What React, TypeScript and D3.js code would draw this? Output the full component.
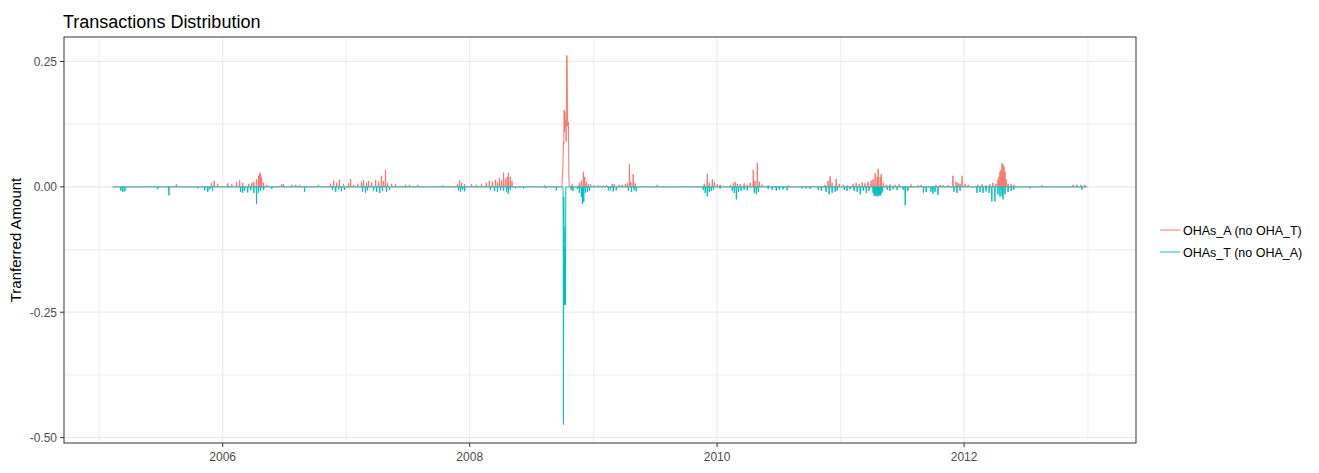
import React from "react";
import * as d3 from "d3";

// ---------- data ----------
const startDate = "2005-02-10";
const endDate = "2012-12-30";

const seriesNames = ["OHAs_A (no OHA_T)", "OHAs_T (no OHA_A)"];
const seriesColors = ["#F8766D", "#00BFC4"];

// Non-zero daily transferred amounts, OHAs_A (positive)
const ohaA: [string, number][] = [
  ["2005-08-17", 0.005], ["2005-11-29", 0.008], ["2005-12-07", 0.012], ["2005-12-17", 0.006],
  ["2006-01-16", 0.007], ["2006-01-28", 0.005], ["2006-02-11", 0.01], ["2006-02-20", 0.013],
  ["2006-03-01", 0.008], ["2006-03-19", 0.006], ["2006-03-28", 0.008], ["2006-04-03", 0.01],
  ["2006-04-11", 0.015], ["2006-04-17", 0.022], ["2006-04-20", 0.028], ["2006-04-23", 0.026],
  ["2006-04-26", 0.018], ["2006-05-02", 0.008], ["2006-05-11", 0.004], ["2006-06-24", 0.005],
  ["2006-06-29", 0.006], ["2006-07-24", 0.004], ["2006-08-05", 0.004], ["2006-08-16", 0.004],
  ["2006-10-11", 0.004], ["2006-11-16", 0.006], ["2006-11-25", 0.012], ["2006-12-04", 0.008],
  ["2006-12-12", 0.014], ["2006-12-24", 0.006],
  ["2007-01-08", 0.007], ["2007-01-14", 0.015], ["2007-01-23", 0.004], ["2007-02-04", 0.006],
  ["2007-02-15", 0.01], ["2007-02-21", 0.013], ["2007-03-02", 0.008], ["2007-03-08", 0.012],
  ["2007-03-17", 0.009], ["2007-03-29", 0.014], ["2007-04-07", 0.01], ["2007-04-15", 0.022],
  ["2007-04-21", 0.012], ["2007-04-27", 0.034], ["2007-05-03", 0.008], ["2007-05-15", 0.006],
  ["2007-05-27", 0.005], ["2007-06-25", 0.004], ["2007-07-07", 0.004], ["2007-07-31", 0.004],
  ["2007-10-13", 0.003], ["2007-11-26", 0.006], ["2007-12-02", 0.013], ["2007-12-08", 0.008],
  ["2007-12-17", 0.005],
  ["2008-01-06", 0.005], ["2008-01-21", 0.004], ["2008-02-05", 0.006], ["2008-02-19", 0.008],
  ["2008-02-28", 0.012], ["2008-03-08", 0.01], ["2008-03-17", 0.014], ["2008-03-23", 0.009],
  ["2008-03-29", 0.018], ["2008-04-04", 0.013], ["2008-04-10", 0.028], ["2008-04-16", 0.016],
  ["2008-04-21", 0.02], ["2008-04-24", 0.028], ["2008-04-30", 0.02], ["2008-05-05", 0.012],
  ["2008-08-09", 0.003],
  ["2008-09-30", 0.006], ["2008-10-01", 0.03], ["2008-10-02", 0.028], ["2008-10-03", 0.06],
  ["2008-10-04", 0.09], ["2008-10-05", 0.085], ["2008-10-06", 0.153], ["2008-10-07", 0.11],
  ["2008-10-08", 0.15], ["2008-10-09", 0.133], ["2008-10-10", 0.12], ["2008-10-11", 0.133],
  ["2008-10-12", 0.09], ["2008-10-13", 0.2], ["2008-10-14", 0.262], ["2008-10-15", 0.24],
  ["2008-10-16", 0.13], ["2008-10-17", 0.12], ["2008-10-18", 0.13], ["2008-10-19", 0.125],
  ["2008-10-20", 0.02],
  ["2008-10-30", 0.005], ["2008-11-20", 0.008], ["2008-11-26", 0.012], ["2008-12-02", 0.03],
  ["2008-12-06", 0.02], ["2008-12-11", 0.01], ["2008-12-17", 0.006], ["2008-12-23", 0.005],
  ["2009-01-03", 0.003], ["2009-01-15", 0.003], ["2009-01-30", 0.003], ["2009-02-08", 0.003],
  ["2009-02-25", 0.006], ["2009-03-03", 0.005], ["2009-03-18", 0.004], ["2009-03-27", 0.004],
  ["2009-04-05", 0.005], ["2009-04-11", 0.007], ["2009-04-17", 0.045], ["2009-04-21", 0.01],
  ["2009-04-28", 0.025], ["2009-05-04", 0.007], ["2009-07-08", 0.004],
  ["2009-11-24", 0.006], ["2009-12-03", 0.026], ["2009-12-09", 0.008], ["2009-12-18", 0.015],
  ["2009-12-24", 0.01],
  ["2010-01-02", 0.005], ["2010-01-10", 0.004], ["2010-02-09", 0.004], ["2010-02-18", 0.008],
  ["2010-02-24", 0.01], ["2010-03-02", 0.006], ["2010-03-10", 0.005], ["2010-03-22", 0.007],
  ["2010-03-31", 0.004], ["2010-04-09", 0.008], ["2010-04-18", 0.034], ["2010-04-23", 0.012],
  ["2010-04-30", 0.048], ["2010-05-06", 0.01], ["2010-05-14", 0.004], ["2010-06-01", 0.003],
  ["2010-07-30", 0.003], ["2010-11-16", 0.004], ["2010-11-25", 0.012], ["2010-12-01", 0.021],
  ["2010-12-07", 0.008], ["2010-12-19", 0.016], ["2010-12-28", 0.006],
  ["2011-01-09", 0.004], ["2011-01-20", 0.003], ["2011-02-07", 0.006], ["2011-02-16", 0.008],
  ["2011-02-25", 0.006], ["2011-03-06", 0.009], ["2011-03-14", 0.007], ["2011-03-23", 0.01],
  ["2011-04-01", 0.012], ["2011-04-07", 0.015], ["2011-04-13", 0.027], ["2011-04-19", 0.02],
  ["2011-04-22", 0.036], ["2011-04-28", 0.02], ["2011-05-01", 0.025], ["2011-05-07", 0.008],
  ["2011-05-16", 0.004], ["2011-05-27", 0.005], ["2011-06-11", 0.004], ["2011-06-23", 0.005],
  ["2011-07-28", 0.005], ["2011-08-18", 0.003], ["2011-08-27", 0.004], ["2011-10-10", 0.004],
  ["2011-10-22", 0.004], ["2011-10-31", 0.003], ["2011-11-15", 0.003], ["2011-11-29", 0.022],
  ["2011-12-08", 0.01], ["2011-12-14", 0.008], ["2011-12-20", 0.006], ["2011-12-26", 0.022],
  ["2012-01-04", 0.006], ["2012-01-13", 0.004], ["2012-02-11", 0.004], ["2012-02-23", 0.005],
  ["2012-03-06", 0.003], ["2012-03-17", 0.005], ["2012-03-26", 0.008], ["2012-04-04", 0.006],
  ["2012-04-10", 0.014], ["2012-04-13", 0.02], ["2012-04-16", 0.03], ["2012-04-19", 0.033],
  ["2012-04-22", 0.047], ["2012-04-25", 0.044], ["2012-04-28", 0.04], ["2012-05-01", 0.03],
  ["2012-05-04", 0.015], ["2012-05-10", 0.006], ["2012-05-19", 0.005], ["2012-05-27", 0.004],
  ["2012-08-18", 0.003], ["2012-11-18", 0.004], ["2012-11-29", 0.004], ["2012-12-11", 0.004],
  ["2012-12-23", 0.004],
];

// Non-zero daily transferred amounts, OHAs_T (negative)
const ohaT: [string, number][] = [
  ["2005-03-06", -0.008], ["2005-03-12", -0.01], ["2005-03-18", -0.009], ["2005-06-23", -0.005],
  ["2005-07-26", -0.017], ["2005-10-19", -0.003], ["2005-11-09", -0.007], ["2005-11-18", -0.01],
  ["2005-11-24", -0.005], ["2005-12-02", -0.008],
  ["2006-02-23", -0.01], ["2006-03-01", -0.012], ["2006-03-07", -0.008], ["2006-03-16", -0.011],
  ["2006-03-25", -0.007], ["2006-04-03", -0.012], ["2006-04-11", -0.034], ["2006-04-17", -0.012],
  ["2006-04-23", -0.008], ["2006-05-02", -0.006], ["2006-05-26", -0.004], ["2006-08-31", -0.01],
  ["2006-11-22", -0.006], ["2006-12-01", -0.01], ["2006-12-10", -0.005], ["2006-12-18", -0.009],
  ["2006-12-27", -0.006],
  ["2007-02-18", -0.01], ["2007-02-27", -0.012], ["2007-03-05", -0.007], ["2007-03-23", -0.008],
  ["2007-04-01", -0.01], ["2007-04-10", -0.012], ["2007-04-18", -0.008], ["2007-04-30", -0.01],
  ["2007-05-09", -0.006], ["2007-11-29", -0.008], ["2007-12-05", -0.01], ["2007-12-11", -0.006],
  ["2007-12-17", -0.009],
  ["2008-03-02", -0.006], ["2008-03-14", -0.008], ["2008-03-23", -0.01], ["2008-04-01", -0.007],
  ["2008-04-10", -0.008], ["2008-04-19", -0.01], ["2008-04-24", -0.014], ["2008-04-30", -0.006],
  ["2008-05-15", -0.003], ["2008-06-08", -0.003], ["2008-08-12", -0.003], ["2008-09-13", -0.007],
  ["2008-10-03", -0.01], ["2008-10-04", -0.474], ["2008-10-05", -0.02], ["2008-10-06", -0.235],
  ["2008-10-07", -0.12], ["2008-10-08", -0.235], ["2008-10-09", -0.08], ["2008-10-10", -0.235],
  ["2008-10-27", -0.006], ["2008-11-01", -0.008], ["2008-11-14", -0.004], ["2008-11-20", -0.012],
  ["2008-11-26", -0.02], ["2008-11-29", -0.034], ["2008-12-03", -0.03], ["2008-12-08", -0.012],
  ["2008-12-14", -0.01], ["2008-12-20", -0.008],
  ["2009-02-14", -0.008], ["2009-02-20", -0.006], ["2009-02-28", -0.009], ["2009-03-09", -0.007],
  ["2009-04-14", -0.008], ["2009-04-23", -0.01], ["2009-05-01", -0.007], ["2009-05-07", -0.009],
  ["2009-11-21", -0.006], ["2009-11-27", -0.012], ["2009-12-03", -0.019], ["2009-12-09", -0.01],
  ["2009-12-15", -0.008], ["2009-12-21", -0.006],
  ["2010-01-10", -0.004], ["2010-02-15", -0.008], ["2010-02-21", -0.012], ["2010-02-27", -0.025],
  ["2010-03-05", -0.01], ["2010-03-13", -0.008], ["2010-03-22", -0.006], ["2010-03-31", -0.007],
  ["2010-04-21", -0.012], ["2010-04-27", -0.015], ["2010-05-03", -0.01], ["2010-06-01", -0.004],
  ["2010-06-13", -0.006], ["2010-06-25", -0.008], ["2010-07-04", -0.006], ["2010-07-15", -0.005],
  ["2010-07-27", -0.007], ["2010-09-09", -0.003], ["2010-09-21", -0.003], ["2010-10-03", -0.004],
  ["2010-10-27", -0.006], ["2010-11-05", -0.008], ["2010-11-19", -0.01], ["2010-11-28", -0.015],
  ["2010-12-07", -0.012], ["2010-12-16", -0.01], ["2010-12-22", -0.008],
  ["2011-01-12", -0.006], ["2011-01-20", -0.008], ["2011-01-29", -0.005], ["2011-02-10", -0.008],
  ["2011-02-19", -0.01], ["2011-02-28", -0.015], ["2011-03-09", -0.008], ["2011-03-18", -0.012],
  ["2011-03-26", -0.008], ["2011-04-07", -0.012], ["2011-04-10", -0.018], ["2011-04-13", -0.015],
  ["2011-04-16", -0.019], ["2011-04-19", -0.017], ["2011-04-22", -0.019], ["2011-04-25", -0.016],
  ["2011-04-28", -0.018], ["2011-05-01", -0.014], ["2011-05-04", -0.01], ["2011-05-19", -0.006],
  ["2011-05-27", -0.008], ["2011-06-05", -0.005], ["2011-06-17", -0.006], ["2011-07-05", -0.006],
  ["2011-07-11", -0.037], ["2011-07-19", -0.008], ["2011-09-03", -0.012], ["2011-09-11", -0.01],
  ["2011-09-25", -0.01], ["2011-10-01", -0.014], ["2011-10-07", -0.01], ["2011-10-16", -0.016],
  ["2011-12-02", -0.01], ["2011-12-11", -0.012], ["2011-12-20", -0.008],
  ["2012-02-08", -0.012], ["2012-02-17", -0.01], ["2012-02-26", -0.012], ["2012-03-06", -0.009],
  ["2012-03-15", -0.012], ["2012-03-23", -0.029], ["2012-04-01", -0.029], ["2012-04-10", -0.015],
  ["2012-04-16", -0.02], ["2012-04-22", -0.018], ["2012-04-25", -0.025], ["2012-05-01", -0.015],
  ["2012-05-10", -0.01], ["2012-05-19", -0.008], ["2012-05-27", -0.006], ["2012-07-14", -0.003],
  ["2012-12-14", -0.006],
];

const xMajorYears = ["2006", "2008", "2010", "2012"];
const xMinorYears = ["2005", "2007", "2009", "2011", "2013"];
const yMajorTicks = [0.25, 0, -0.25, -0.5];
const yMajorLabels = ["0.25", "0.00", "-0.25", "-0.50"];
const yMinorTicks = [0.125, -0.125, -0.375];

// ---------- layout ----------
const W = 1319;
const H = 473;
const panel = { left: 64, right: 1136, top: 37, bottom: 443 };
const FONT = "'Liberation Sans', Arial, Helvetica, sans-serif";

const parse = d3.utcParse("%Y-%m-%d");
const fmt = d3.utcFormat("%Y-%m-%d");

function buildSeries(spikes: [string, number][]) {
  const m = new Map(spikes);
  const s = parse(startDate) as Date;
  const e = parse(endDate) as Date;
  return d3.utcDay.range(s, d3.utcDay.offset(e, 1)).map((d) => ({
    date: d,
    value: m.get(fmt(d)) ?? 0,
  }));
}

export default function App() {
  const seriesA = buildSeries(ohaA);
  const seriesT = buildSeries(ohaT);
  const all = [...seriesA, ...seriesT];

  const [dMin, dMax] = d3.extent(all, (d) => +d.date) as [number, number];
  const dPad = (dMax - dMin) * 0.05;
  const x = d3
    .scaleUtc()
    .domain([new Date(dMin - dPad), new Date(dMax + dPad)])
    .range([panel.left, panel.right]);

  const [vMin, vMax] = d3.extent(all, (d) => d.value) as [number, number];
  const vPad = (vMax - vMin) * 0.05;
  const y = d3
    .scaleLinear()
    .domain([vMin - vPad, vMax + vPad])
    .range([panel.bottom, panel.top]);

  const line = d3
    .line<{ date: Date; value: number }>()
    .x((d) => x(d.date))
    .y((d) => y(d.value));

  const yr = (s: string) => parse(s + "-01-01") as Date;

  const grid = "#EBEBEB";
  const minorGrid = "#F0F0F0";
  const textCol = "#4D4D4D";
  const axisCol = "#333333";

  return (
    <svg
      width={W}
      height={H}
      style={{ position: "absolute", left: 0, top: 0, background: "#fff" }}
      fontFamily={FONT}
    >
      <rect x={0} y={0} width={W} height={H} fill="#fff" />
      {/* minor grid */}
      {yMinorTicks.map((t) => (
        <line key={"ym" + t} x1={panel.left} x2={panel.right} y1={y(t)} y2={y(t)} stroke={minorGrid} strokeWidth={1.2} />
      ))}
      {xMinorYears.map((t) => (
        <line key={"xm" + t} x1={x(yr(t))} x2={x(yr(t))} y1={panel.top} y2={panel.bottom} stroke={minorGrid} strokeWidth={1.2} />
      ))}
      {/* major grid */}
      {yMajorTicks.map((t) => (
        <line key={"yM" + t} x1={panel.left} x2={panel.right} y1={y(t)} y2={y(t)} stroke={grid} strokeWidth={1.2} />
      ))}
      {xMajorYears.map((t) => (
        <line key={"xM" + t} x1={x(yr(t))} x2={x(yr(t))} y1={panel.top} y2={panel.bottom} stroke={grid} strokeWidth={1.2} />
      ))}

      {/* data */}
      <path d={line(seriesA) || ""} fill="none" stroke={seriesColors[0]} strokeWidth={1} />
      <path d={line(seriesT) || ""} fill="none" stroke={seriesColors[1]} strokeWidth={1} />

      {/* panel border */}
      <rect
        x={panel.left}
        y={panel.top}
        width={panel.right - panel.left}
        height={panel.bottom - panel.top}
        fill="none"
        stroke={axisCol}
        strokeWidth={1}
      />

      {/* y axis ticks */}
      {yMajorTicks.map((t, i) => (
        <g key={"yt" + t}>
          <line x1={panel.left - 4} x2={panel.left} y1={y(t)} y2={y(t)} stroke={axisCol} strokeWidth={1} />
          <text x={panel.left - 7} y={y(t)} dy="0.36em" textAnchor="end" fontSize={12} fill={textCol}>
            {yMajorLabels[i]}
          </text>
        </g>
      ))}
      {/* x axis ticks */}
      {xMajorYears.map((t) => (
        <g key={"xt" + t}>
          <line x1={x(yr(t))} x2={x(yr(t))} y1={panel.bottom} y2={panel.bottom + 4} stroke={axisCol} strokeWidth={1} />
          <text x={x(yr(t))} y={panel.bottom + 18} textAnchor="middle" fontSize={12} fill={textCol}>
            {t}
          </text>
        </g>
      ))}

      {/* titles */}
      <text x={63} y={28} fontSize={18} fill="#000">
        Transactions Distribution
      </text>
      <text
        transform={`translate(21, ${(panel.top + panel.bottom) / 2}) rotate(-90)`}
        textAnchor="middle"
        fontSize={15}
        fill="#000"
      >
        Tranferred Amount
      </text>

      {/* legend */}
      {seriesNames.map((n, i) => (
        <g key={n} transform={`translate(1160, ${230 + i * 22})`}>
          <line x1={0} x2={20} y1={0} y2={0} stroke={seriesColors[i]} strokeWidth={1} />
          <text x={23} y={0} dy="0.36em" fontSize={12.5} fill="#000">
            {n}
          </text>
        </g>
      ))}
    </svg>
  );
}
